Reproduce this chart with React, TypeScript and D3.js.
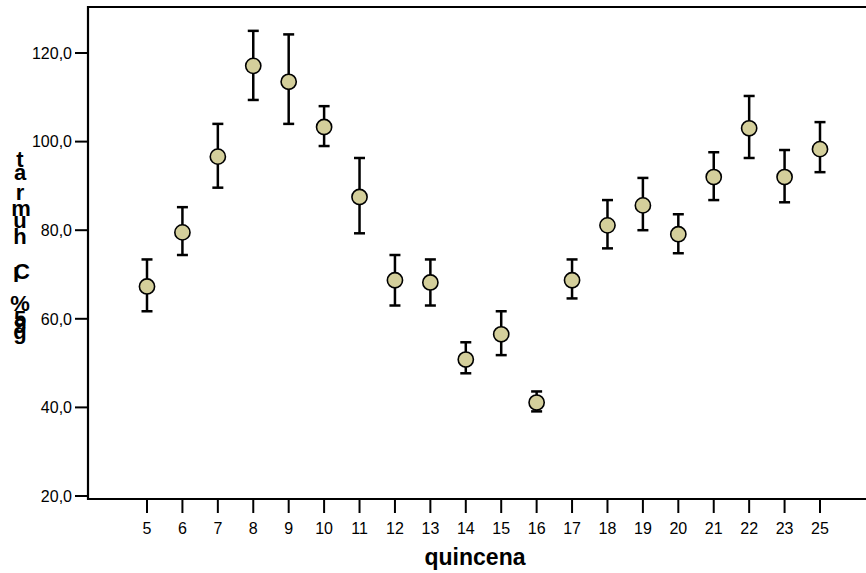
import React from 'react';
import * as d3 from 'd3';

const categories = ['5', '6', '7', '8', '9', '10', '11', '12', '13', '14', '15', '16', '17', '18', '19', '20', '21', '22', '23', '25'];
const means = [67.3, 79.5, 96.6, 117.1, 113.5, 103.3, 87.5, 68.7, 68.2, 50.8, 56.5, 41.1, 68.7, 81.1, 85.6, 79.1, 92.0, 103.0, 92.0, 98.3];
const upper = [73.4, 85.2, 104.0, 125.0, 124.2, 108.0, 96.3, 74.4, 73.4, 54.7, 61.7, 43.6, 73.4, 86.8, 91.8, 83.6, 97.6, 110.3, 98.1, 104.4];
const lower = [61.7, 74.4, 89.6, 109.4, 104.0, 99.0, 79.3, 63.0, 63.0, 47.7, 51.8, 39.1, 64.6, 75.9, 80.0, 74.8, 86.8, 96.3, 86.3, 93.1];
const yTicks = [20, 40, 60, 80, 100, 120];
const xTitle = 'quincena';
// the y title comes out as letters piled on top of each other
const yTitleChars = ['t', 'a', 'r', 'm', 'u', 'h', 'C', 'I', '%', '5', '9', 'g'];

const font = 'Arial, "Liberation Sans", sans-serif';

export default function App() {
  const width = 866, height = 573;
  const left = 88, top = 7, bottom = 499;

  const x = d3.scalePoint<string>().domain(categories).range([147, 820]);
  const y = d3.scaleLinear().domain([20, 120]).range([496, 53]);
  const fmt = (v: number) => d3.format('.1f')(v).replace('.', ',');

  // baselines / x offsets of the piled letters
  const pileY = [167, 180, 200, 216, 228, 244, 279, 282, 311, 326, 333, 339];
  const pileX = [20, 20, 20, 21, 20, 20, 22, 16, 20, 20, 20, 20];

  return (
    <svg width={width} height={height} style={{ position: 'absolute', left: 0, top: 0, background: '#fff' }} fontFamily={font}>
      {/* frame */}
      <path d={`M${width},${top}H${left}V${bottom}H${width}`} fill="none" stroke="#000" strokeWidth={2.2} />

      {/* y axis */}
      {yTicks.map(t => (
        <g key={t} transform={`translate(0,${y(t)})`}>
          <line x1={75} x2={left} stroke="#000" strokeWidth={2} />
          <text x={72} dy="0.36em" textAnchor="end" fontSize={16}>{fmt(t)}</text>
        </g>
      ))}

      {/* x axis */}
      {categories.map(c => (
        <g key={c} transform={`translate(${x(c)},0)`}>
          <line y1={bottom} y2={bottom + 14} stroke="#000" strokeWidth={2} />
          <text y={534} textAnchor="middle" fontSize={16}>{c}</text>
        </g>
      ))}

      <text x={475} y={565} textAnchor="middle" fontSize={23} fontWeight="bold">{xTitle}</text>

      <text textAnchor="middle" fontSize={22} fontWeight="bold">
        {yTitleChars.map((ch, i) => (
          <tspan key={i} x={pileX[i]} y={pileY[i]}>{ch}</tspan>
        ))}
      </text>

      {/* error bars + means */}
      {categories.map((c, i) => {
        const cx = x(c) as number;
        return (
          <g key={c}>
            <line x1={cx} x2={cx} y1={y(upper[i])} y2={y(lower[i])} stroke="#000" strokeWidth={2.5} />
            <line x1={cx - 5.5} x2={cx + 5.5} y1={y(upper[i])} y2={y(upper[i])} stroke="#000" strokeWidth={2.5} />
            <line x1={cx - 5.5} x2={cx + 5.5} y1={y(lower[i])} y2={y(lower[i])} stroke="#000" strokeWidth={2.5} />
            <circle cx={cx} cy={y(means[i])} r={7.6} fill="#d4cf9b" stroke="#000" strokeWidth={1.6} />
          </g>
        );
      })}
    </svg>
  );
}
